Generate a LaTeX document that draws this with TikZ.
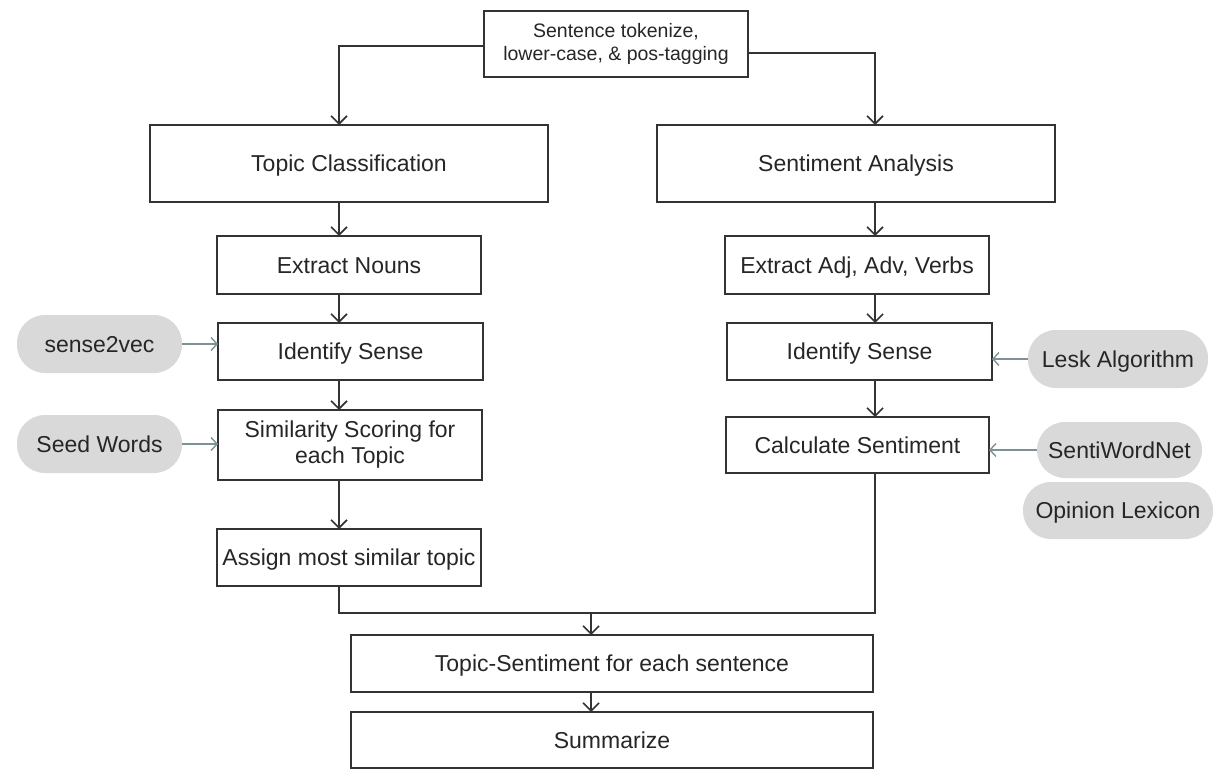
\documentclass[tikz,border=0pt]{standalone}
\usepackage{fontspec}
\setmainfont{Liberation Sans}
\usetikzlibrary{arrows.meta}
\definecolor{boxline}{HTML}{333333}
\definecolor{pillfill}{HTML}{D9D9D9}
\definecolor{pillarrow}{HTML}{7D9295}
\begin{document}
\begin{tikzpicture}[x=1pt,y=-1pt,
  every node/.style={inner sep=0pt, outer sep=0pt, font=\fontsize{23}{26}\selectfont, text=black!85},
  box/.style={draw=boxline, line width=1.8pt, fill=white, align=center},
  one/.style={text height=19pt, text depth=3pt},
  pill/.style={fill=pillfill, rounded corners=28pt, align=center, text height=19pt, text depth=3pt},
  arr/.style={draw=boxline, line width=1.8pt, -{Straight Barb[length=8pt,width=16pt,line width=1.6pt]}},
  parr/.style={draw=pillarrow, line width=1.6pt, -{Straight Barb[length=6pt,width=13pt,line width=1.4pt]}},
  ln/.style={draw=boxline, line width=1.8pt}]
\useasboundingbox (0,0) rectangle (1223,778);
% columns
\coordinate (cl) at (339,0);
\coordinate (cr) at (875,0);
\coordinate (mj) at (591,613);
% boxes
\node[box, minimum width=264, minimum height=66, font=\fontsize{19.5}{23}\selectfont] (top) at (616,44) {Sentence tokenize,\\lower-case, \& pos-tagging};
\node[box, one, minimum width=398, minimum height=77] (topic) at (349,163.5) {Topic Classification};
\node[box, one, minimum width=398, minimum height=77] (senti) at (856,163.5) {Sentiment Analysis};
\node[box, one, minimum width=264, minimum height=58] (nouns) at (349,265) {Extract Nouns};
\node[box, one, minimum width=264, minimum height=58] (adj) at (857,265) {Extract Adj, Adv, Verbs};
\node[box, one, minimum width=265, minimum height=57] (idl) at (350.5,351.5) {Identify Sense};
\node[box, one, minimum width=265, minimum height=57] (idr) at (859.5,351.5) {Identify Sense};
\node[box, minimum width=264, minimum height=70] (sim) at (350,445) {Similarity Scoring for\\each Topic};
\node[box, one, minimum width=263, minimum height=56] (calc) at (857.5,445) {Calculate Sentiment};
\node[box, one, minimum width=264, minimum height=57] (assign) at (349,557.5) {Assign most similar topic};
\node[box, one, minimum width=522, minimum height=57] (ts) at (612,663.5) {Topic-Sentiment for each sentence};
\node[box, one, minimum width=522, minimum height=56] (summ) at (612,740) {Summarize};
% pills
\node[pill, minimum width=165, minimum height=58] (s2v) at (99.5,344) {sense2vec};
\node[pill, minimum width=165, minimum height=58] (seed) at (99.5,444) {Seed Words};
\node[pill, minimum width=180, minimum height=58] (lesk) at (1118,359) {Lesk Algorithm};
\node[pill, minimum width=165, minimum height=56] (swn) at (1119.5,450) {SentiWordNet};
\node[pill, minimum width=190, minimum height=57] (ol) at (1118,510.5) {Opinion Lexicon};
% connectors
\draw[arr] ([yshift=-2]top.west) -| (topic.north -| cl);
\draw[arr] ([yshift=-9]top.east) -| (senti.north -| cr);
\draw[arr] (topic.south -| cl) -- (nouns.north -| cl);
\draw[arr] (nouns.south -| cl) -- (idl.north -| cl);
\draw[arr] (idl.south -| cl) -- (sim.north -| cl);
\draw[arr] (sim.south -| cl) -- (assign.north -| cl);
\draw[arr] (senti.south -| cr) -- (adj.north -| cr);
\draw[arr] (adj.south -| cr) -- (idr.north -| cr);
\draw[arr] (idr.south -| cr) -- (calc.north -| cr);
\draw[ln] (assign.south -| cl) |- (mj);
\draw[ln] (calc.south -| cr) |- (mj);
\draw[arr] (mj) -- (ts.north -| mj);
\draw[arr] (ts.south -| mj) -- (summ.north -| mj);
\draw[parr] (s2v.east) -- (s2v.east -| idl.west);
\draw[parr] (seed.east) -- (seed.east -| sim.west);
\draw[parr] (lesk.west) -- (lesk.west -| idr.east);
\draw[parr] (swn.west) -- (swn.west -| calc.east);
\end{tikzpicture}
\end{document}
